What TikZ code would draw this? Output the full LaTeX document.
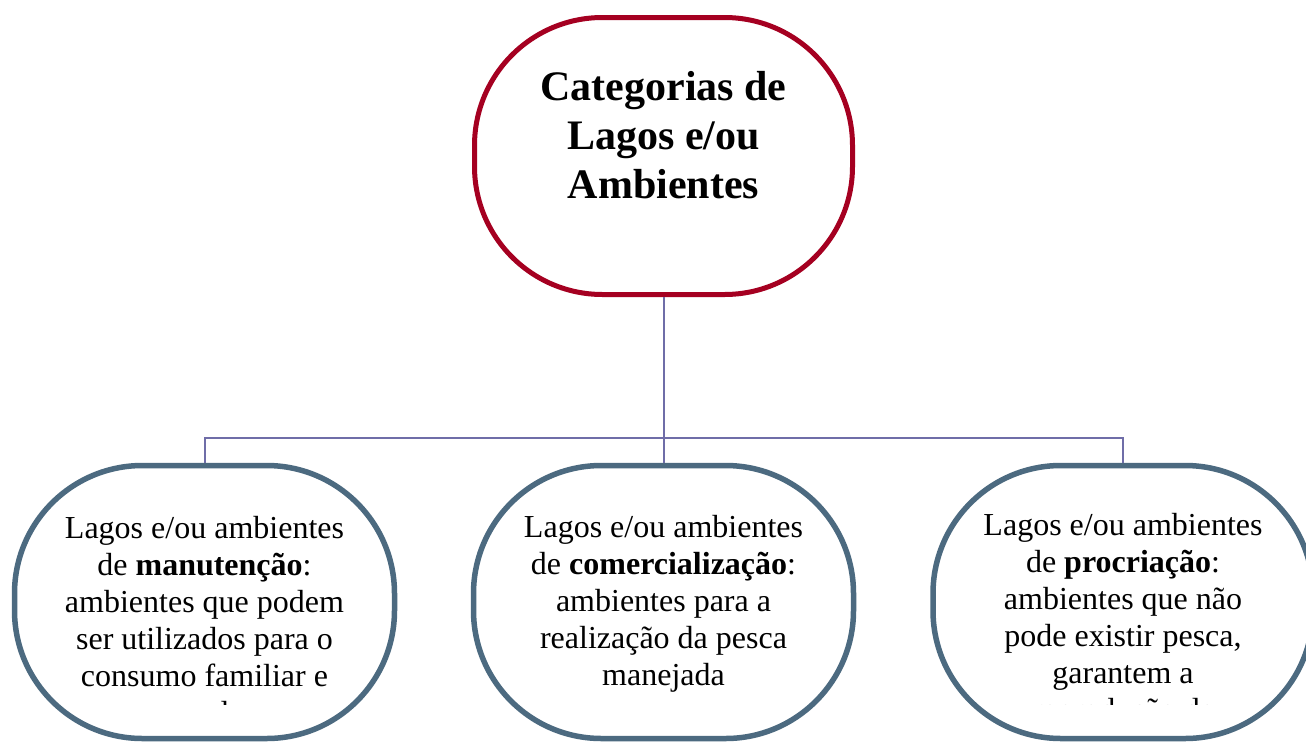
\documentclass[tikz,border=0pt]{standalone}
\usepackage{fontspec}
\setmainfont{Liberation Serif}
\definecolor{topred}{HTML}{A50021}
\definecolor{boxblue}{HTML}{4C6A80}
\definecolor{connc}{HTML}{6F6DA8}
\begin{document}
\begin{tikzpicture}[x=1pt,y=-1pt,
  topbox/.style={draw=topred, line width=5pt, rounded corners=128pt, minimum width=378pt, minimum height=277pt, inner sep=0pt, fill=white},
  catbox/.style={draw=boxblue, line width=5.5pt, rounded corners=128pt, minimum width=380pt, minimum height=273pt, inner sep=0pt, fill=white},
  ttext/.style={align=center, inner sep=0pt, font=\fontsize{42}{49}\selectfont\bfseries},
  ctext/.style={align=center, inner sep=0pt, font=\fontsize{32}{37}\selectfont},
  conn/.style={draw=connc, line width=2pt}]
\useasboundingbox (0,0) rectangle (1306,742);
\fill[white] (0,0) rectangle (1306,742);
\node[topbox] (top) at (663.5,156) {};
\node[catbox] (left) at (204.5,602) {};
\node[catbox] (mid) at (663.5,602) {};
\node[catbox] (right) at (1123,602) {};
\coordinate (bus) at (663.5,438);
\draw[conn] (top.south) -- (bus);
\draw[conn] (bus) -| (left.north);
\draw[conn] (bus) -| (right.north);
\draw[conn] (bus) -- (mid.north);
\node[ttext] (toptext) at (663.5,135) {Categorias de\\Lagos e/ou\\Ambientes};
\begin{scope}
\clip (0,0) rectangle (1306,704);
\node[ctext] (lefttext) at (204.5,620) {Lagos e/ou ambientes\\de \textbf{manutenção}:\\ambientes que podem\\ser utilizados para o\\consumo familiar e\\venda};
\node[ctext] (midtext) at (663.5,604) {Lagos e/ou ambientes\\de \textbf{comercialização}:\\ambientes para a\\realização da pesca\\manejada};
\node[ctext] (righttext) at (1123,620) {Lagos e/ou ambientes\\de \textbf{procriação}:\\ambientes que não\\pode existir pesca,\\garantem a\\reprodução de};
\end{scope}
\end{tikzpicture}
\end{document}
